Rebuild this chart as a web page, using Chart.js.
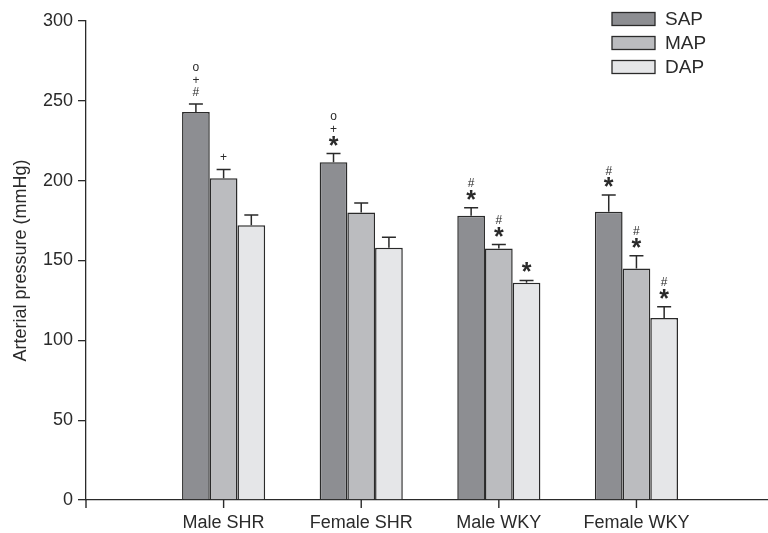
<!DOCTYPE html>
<html><head><meta charset="utf-8">
<script src="https://cdn.jsdelivr.net/npm/chart.js@4.4.1/dist/chart.umd.min.js"></script>
<style>html,body{margin:0;padding:0;background:#fff}#wrap{width:768px;height:533px;position:relative}</style>
</head><body><div id="wrap"><canvas id="c"></canvas></div>
<script>
const categories = ['Male SHR', 'Female SHR', 'Male WKY', 'Female WKY'];
const seriesNames = ['SAP', 'MAP', 'DAP'];
const sapValues = [243, 211.5, 178, 180.5];
const mapValues = [201.5, 180, 157.5, 145];
const dapValues = [172, 158, 136, 114];
const sapErrTop = [248, 217, 183, 191];
const mapErrTop = [207, 186, 160, 153];
const dapErrTop = [178.5, 164.5, 137.5, 121];
// significance marks, listed bottom to top
const sapMarks = [['#', '+', 'o'], ['*', '+', 'o'], ['*', '#'], ['*', '#']];
const mapMarks = [['+'], [], ['*', '#'], ['*', '#']];
const dapMarks = [[], [], ['*'], ['*', '#']];
const yTicks = [0, 50, 100, 150, 200, 250, 300];
const xTickPositions = [0, 1, 2, 3, 4];

const colors = ['#8d8e92', '#bbbcbf', '#e5e6e8'];
const INK = '#2a2a2a';
const FONT = '"Liberation Sans", Arial, Helvetica, sans-serif';

const errPlugin = {
  id: 'errbars',
  afterDatasetsDraw(chart) {
    const ctx = chart.ctx, y = chart.scales.y;
    chart.data.datasets.forEach((ds, di) => {
      const meta = chart.getDatasetMeta(di);
      meta.data.forEach((bar, i) => {
        const e = ds.errTop[i];
        if (e == null) return;
        const top = y.getPixelForValue(e);
        ctx.save();
        ctx.strokeStyle = INK; ctx.lineWidth = 1.5;
        ctx.beginPath();
        ctx.moveTo(bar.x, bar.y); ctx.lineTo(bar.x, top);
        ctx.moveTo(bar.x - 7, top); ctx.lineTo(bar.x + 7, top);
        ctx.stroke();
        let cy = top - 13;
        ctx.fillStyle = INK; ctx.textAlign = 'center'; ctx.textBaseline = 'alphabetic';
        ds.marks[i].forEach(m => {
          ctx.font = m === '*' ? 'bold 25px ' + FONT : '12px ' + FONT;
          const mt = ctx.measureText(m);
          const a = mt.actualBoundingBoxAscent, d = mt.actualBoundingBoxDescent;
          ctx.fillText(m, bar.x, cy + (a - d) / 2);
          cy -= 12;
        });
        ctx.restore();
      });
    });
  }
};

const legendPlugin = {
  id: 'customLegend',
  afterDraw(chart) {
    const ctx = chart.ctx, x = chart.scales.x, y = chart.scales.y;
    ctx.save();
    // x-axis tick marks
    ctx.fillStyle = INK;
    xTickPositions.forEach(v => {
      const px = x.getPixelForValue(v);
      ctx.fillRect(px - 0.7, y.bottom, 1.4, 8);
    });
    chart.data.datasets.forEach((ds, i) => {
      const cy = 19 + i * 24;
      ctx.fillStyle = ds.backgroundColor;
      ctx.fillRect(612, cy - 6.5, 43, 13);
      ctx.strokeStyle = INK; ctx.lineWidth = 1.3;
      ctx.strokeRect(612, cy - 6.5, 43, 13);
      ctx.fillStyle = INK;
      ctx.font = '19px ' + FONT;
      ctx.textAlign = 'left'; ctx.textBaseline = 'middle';
      ctx.fillText(ds.label, 665, cy + 1);
    });
    ctx.restore();
  }
};

const mk = (i, vals, errs, marks) => ({
  label: seriesNames[i],
  data: vals.map((v, k) => ({ x: k + 1, y: v })),
  errTop: errs, marks: marks,
  backgroundColor: colors[i], borderColor: INK, borderWidth: 1.5,
  borderSkipped: 'start', barPercentage: 1, categoryPercentage: 0.604
});

new Chart(document.getElementById('c'), {
  type: 'bar',
  data: {
    datasets: [
      mk(0, sapValues, sapErrTop, sapMarks),
      mk(1, mapValues, mapErrTop, mapMarks),
      mk(2, dapValues, dapErrTop, dapMarks)
    ]
  },
  options: {
    responsive: true, maintainAspectRatio: false, animation: false,
    layout: { padding: { top: 21, right: 0, left: 0, bottom: 0 } },
    plugins: { legend: { display: false }, tooltip: { enabled: false } },
    scales: {
      x: {
        type: 'linear', min: 0, max: 4.956, offset: false,
        afterBuildTicks(s) { s.ticks = xTickPositions.map(v => ({ value: v })); },
        grid: { display: false },
        border: { display: true, color: INK, width: 1.3 },
        ticks: {
          color: INK, font: { size: 18, family: FONT }, padding: 4, maxRotation: 0, autoSkip: false,
          callback: v => categories[v - 1] || ''
        },
        afterFit(s) { s.height = 33; }
      },
      y: {
        min: 0, max: 300,
        afterBuildTicks(s) { s.ticks = yTicks.map(v => ({ value: v })); },
        grid: { display: true, drawOnChartArea: false, tickLength: 8, color: INK, lineWidth: 1.3 },
        border: { display: true, color: INK, width: 1.3 },
        ticks: { color: INK, font: { size: 18, family: FONT }, padding: 5 },
        title: { display: true, text: 'Arterial pressure (mmHg)', color: INK, font: { size: 18, family: FONT }, padding: { top: 10, bottom: 4 } },
        afterFit(s) { s.width = 86; }
      }
    }
  },
  plugins: [errPlugin, legendPlugin]
});
</script>
</body></html>
